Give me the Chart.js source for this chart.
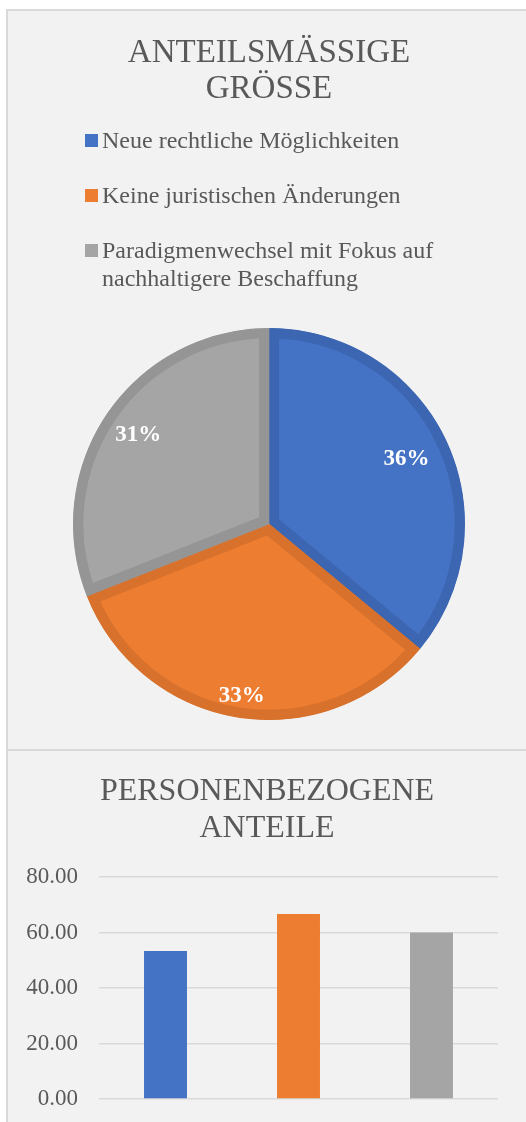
<!DOCTYPE html>
<html>
<head>
<meta charset="utf-8">
<script src="https://cdn.jsdelivr.net/npm/chart.js@4/dist/chart.umd.min.js"></script>
<style>
  html, body { margin: 0; padding: 0; background: #ffffff; width: 526px; height: 1122px; overflow: hidden; }
  .panel { position: absolute; background: #f2f2f2; box-sizing: border-box; border-left: 2px solid #d9d9d9; border-top: 2px solid #d9d9d9; }
  #p1 { left: 6px; top: 9px; width: 560px; height: 742px; }
  #p2 { left: 6px; top: 749px; width: 560px; height: 400px; }
  .wrap { position: absolute; }
  #pieWrap { left: 8px; top: 11px; width: 518px; height: 737px; }
  #barWrap { left: 8px; top: 751px; width: 518px; height: 371px; }
  #legend { position: absolute; left: 102px; top: 126px; width: 370px; font-family: 'Liberation Serif', 'Times New Roman', serif; font-size: 24px; line-height: 28px; color: #595959; }
  .item { position: relative; margin-bottom: 27px; }
  .box { position: absolute; left: -17px; top: 8px; width: 13px; height: 13px; }
</style>
</head>
<body>
<div class="panel" id="p1"></div>
<div class="panel" id="p2"></div>
<div class="wrap" id="pieWrap"><canvas id="pie"></canvas></div>
<div id="legend"></div>
<div class="wrap" id="barWrap"><canvas id="bar"></canvas></div>
<script>
// ---- data ----
const categories = ['Neue rechtliche Möglichkeiten', 'Keine juristischen Änderungen', 'Paradigmenwechsel mit Fokus auf nachhaltigere Beschaffung'];
const pieValues = [36, 33, 31];
const barValues = [53.33, 66.67, 60.00];
const yTicks = [0, 20, 40, 60, 80];
const pieTitle = ['ANTEILSMÄSSIGE', 'GRÖSSE'];
const barTitle = ['PERSONENBEZOGENE', 'ANTEILE'];

// ---- styles ----
const fillColors = ['#4472C4', '#ED7D31', '#A5A5A5'];
const borderColors = ['#3c66b1', '#d7712c', '#959595'];
const labelRadiusFactors = [0.775, 0.888, 0.806];
const serif = "'Liberation Serif', 'Times New Roman', serif";
const textColor = '#595959';

// legend (HTML, built from data)
const legendEl = document.getElementById('legend');
categories.forEach((c, i) => {
  const d = document.createElement('div');
  d.className = 'item';
  const b = document.createElement('span');
  b.className = 'box';
  b.style.background = fillColors[i];
  d.appendChild(b);
  d.appendChild(document.createTextNode(c));
  legendEl.appendChild(d);
});

const pieLabelPlugin = {
  id: 'pieLabels',
  afterDatasetsDraw(chart) {
    const ctx = chart.ctx;
    const meta = chart.getDatasetMeta(0);
    const vals = chart.data.datasets[0].data;
    const total = vals.reduce((a, b) => a + b, 0);
    ctx.save();
    ctx.fillStyle = '#ffffff';
    ctx.font = 'bold 23px ' + serif;
    ctx.textAlign = 'center';
    ctx.textBaseline = 'middle';
    meta.data.forEach((arc, i) => {
      const p = arc.getProps(['x', 'y', 'startAngle', 'endAngle', 'outerRadius'], true);
      const mid = (p.startAngle + p.endAngle) / 2;
      const r = p.outerRadius * labelRadiusFactors[i];
      const txt = Math.round(vals[i] / total * 100) + '%';
      ctx.fillText(txt, p.x + Math.cos(mid) * r, p.y + Math.sin(mid) * r);
    });
    ctx.restore();
  }
};

new Chart(document.getElementById('pie'), {
  type: 'pie',
  data: {
    labels: categories,
    datasets: [{
      data: pieValues,
      backgroundColor: fillColors,
      borderColor: borderColors,
      borderWidth: 10,
      borderAlign: 'inner'
    }]
  },
  options: {
    responsive: true,
    maintainAspectRatio: false,
    animation: false,
    events: [],
    radius: 196,
    layout: { padding: { left: 61, right: 57, top: 0, bottom: 24 } },
    plugins: {
      legend: { display: false },
      tooltip: { enabled: false },
      title: {
        display: true,
        text: pieTitle,
        color: textColor,
        font: { family: serif, size: 33, weight: 'normal', lineHeight: 36 / 33 },
        padding: { top: 24, bottom: 217 }
      }
    }
  },
  plugins: [pieLabelPlugin]
});

new Chart(document.getElementById('bar'), {
  type: 'bar',
  data: {
    labels: categories,
    datasets: [{
      data: barValues,
      backgroundColor: fillColors,
      borderWidth: 0,
      barPercentage: 0.323,
      categoryPercentage: 1
    }]
  },
  options: {
    responsive: true,
    maintainAspectRatio: false,
    animation: false,
    events: [],
    layout: { padding: { left: 0, right: 0, top: 0, bottom: 23 } },
    plugins: {
      legend: { display: false },
      tooltip: { enabled: false },
      title: {
        display: true,
        text: barTitle,
        color: textColor,
        font: { family: serif, size: 32, weight: 'normal', lineHeight: 37 / 32 },
        padding: { top: 22.5, bottom: 29.5 }
      }
    },
    scales: {
      x: { display: false },
      y: {
        position: 'left',
        min: yTicks[0],
        max: yTicks[yTicks.length - 1],
        afterBuildTicks(scale) { scale.ticks = yTicks.map(v => ({ value: v })); },
        afterFit(scale) { scale.width = 91; },
        border: { display: false },
        grid: { color: '#d9d9d9', lineWidth: 1.5, drawTicks: true, tickLength: 21, tickColor: 'rgba(0,0,0,0)' },
        ticks: {
          padding: 0,
          color: textColor,
          font: { family: serif, size: 23 },
          callback: v => Number(v).toFixed(2)
        }
      },
      yRight: {
        position: 'right',
        min: yTicks[0],
        max: yTicks[yTicks.length - 1],
        afterFit(scale) { scale.width = 28; },
        border: { display: false },
        grid: { display: false, drawTicks: false },
        ticks: { display: false }
      }
    }
  }
});
</script>
</body>
</html>
